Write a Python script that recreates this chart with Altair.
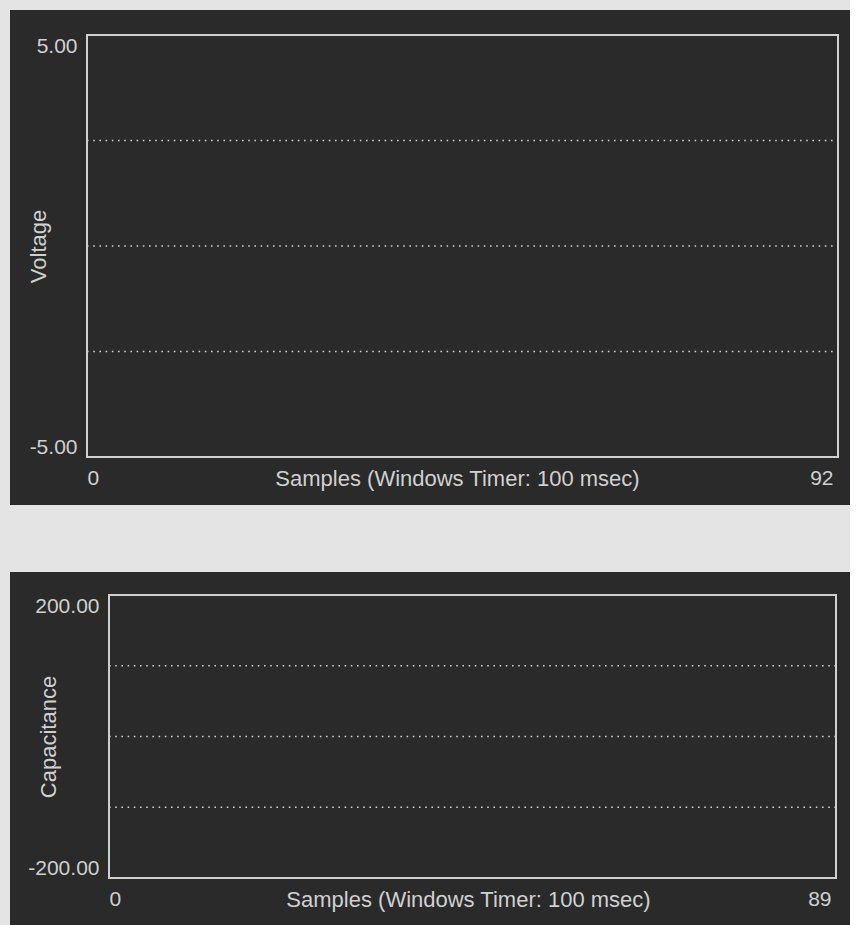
import altair as alt
import pandas as pd

# ---- data ----
x_title = "Samples (Windows Timer: 100 msec)"

v_title = "Voltage"
v_range = [-5.00, 5.00]          # y-axis extremes
v_grid = [2.5, 0.0, -2.5]        # dotted reference lines
v_samples = [0, 92]              # x-axis extremes

c_title = "Capacitance"
c_range = [-200.00, 200.00]
c_grid = [100.0, 0.0, -100.0]
c_samples = [0, 89]

# ---- style ----
DARK = "#2a2a2a"
LIGHT = "#e4e4e4"
FG = "#d0d0d0"
FONT = "Liberation Sans"


def panel(ytitle, yrange, grid, xs, width, height, inset, ext, title_x, xtitle_x):
    left_ext, top_ext, right_ext, bottom_ext = ext
    grid_df = pd.DataFrame({"y": grid, "x0": [xs[0]] * len(grid), "x1": [xs[1]] * len(grid)})
    frame_df = pd.DataFrame({"x0": [xs[0]], "x1": [xs[1]], "y0": [yrange[0]], "y1": [yrange[1]]})

    if inset:
        xscale = alt.Scale(domain=xs, nice=False, zero=False, range=[inset, width])
    else:
        xscale = alt.Scale(domain=xs, nice=False, zero=False)
    yscale = alt.Scale(domain=yrange, nice=False, zero=False)
    xaxis = alt.Axis(
        values=xs, format="d", title=x_title, labelFlush=True, labelPadding=10,
        labelOffset={"condition": {"test": "datum.value > 0", "value": -5}, "value": 0},
        titleX=xtitle_x, titleY=21, titleAlign="center", titleBaseline="middle",
        zindex=2,
    )
    yaxis = alt.Axis(
        values=yrange, title=ytitle, labelFlush=True, labelPadding=10,
        labelExpr="(datum.value < 0 ? '-' : '') + format(abs(datum.value), '.2f')",
        titleX=title_x, titleY=height / 2, titleAngle=270,
        titleAlign="center", titleBaseline="middle", zindex=2,
        offset=-inset,
    )

    backdrop = alt.Chart(frame_df).mark_rect(color=DARK).encode(
        x=alt.value(-left_ext), x2=alt.value(width + right_ext),
        y=alt.value(-top_ext), y2=alt.value(height + bottom_ext),
    )
    frame = alt.Chart(frame_df).mark_rect(
        fillOpacity=0, stroke=FG, strokeWidth=2
    ).encode(
        x=alt.X("x0:Q", scale=xscale, axis=xaxis), x2="x1:Q",
        y=alt.Y("y0:Q", scale=yscale, axis=yaxis), y2="y1:Q",
    )
    rules = alt.Chart(grid_df).mark_rule(
        color=FG, strokeWidth=1.6, strokeDash=[1.6, 4.6]
    ).encode(
        x=alt.X("x0:Q", scale=xscale, axis=xaxis), x2="x1:Q",
        y=alt.Y("y:Q", scale=yscale, axis=yaxis),
    )
    return alt.layer(backdrop, rules, frame).properties(width=width, height=height)


top = panel(v_title, v_range, v_grid, v_samples, 751, 422, 0,
            (77, 25, 12, 48), -49, 370)
bottom = panel(c_title, c_range, c_grid, c_samples, 749, 283, 22,
               (77, 23, 14, 47), -61, 381)

chart = (
    alt.vconcat(top, bottom, spacing=67)
    .properties(background=LIGHT, padding={"left": 10, "top": 10, "right": 0, "bottom": 0})
    .configure_view(stroke=None)
    .configure_axis(
        domain=False, ticks=False, grid=False,
        labelColor=FG, titleColor=FG, labelFont=FONT, titleFont=FONT,
        labelFontSize=21, titleFontSize=22, titleFontWeight="normal",
    )
)

chart.save("out.html", embed_options={"renderer": "svg", "actions": False})
